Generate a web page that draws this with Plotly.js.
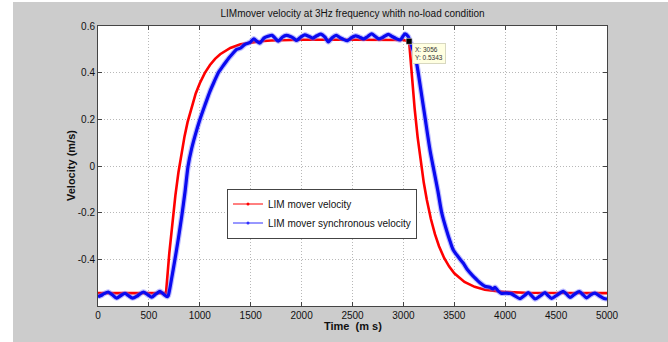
<!DOCTYPE html>
<html>
<head>
<meta charset="utf-8">
<script src="https://cdn.plot.ly/plotly-3.0.1.min.js"></script>
<style>html,body{margin:0;padding:0;background:#fff;}#chart{width:668px;height:342px;}</style>
</head>
<body>
<div id="chart"></div>
<script>
// LIM mover velocity (red)
const redTime = [0, 300, 668, 700, 730, 760, 790, 820, 850, 880, 920, 960, 1000, 1050, 1100, 1150, 1200, 1300, 1400, 1500, 1600, 1700, 1800, 2000, 2500, 3000, 3056,
  3080, 3110, 3140, 3170, 3200, 3230, 3270, 3310, 3350, 3400, 3450, 3500, 3600, 3700, 3800, 3900, 4000, 4200, 4600, 5000];
const redVel = [-0.545, -0.545, -0.545, -0.376, -0.242, -0.127, -0.028, 0.055, 0.127, 0.188, 0.256, 0.311, 0.355, 0.399, 0.433, 0.459, 0.479, 0.506, 0.522, 0.530, 0.535, 0.538, 0.540, 0.541, 0.541, 0.540, 0.534,
  0.397, 0.248, 0.123, 0.018, -0.071, -0.145, -0.227, -0.292, -0.344, -0.394, -0.431, -0.460, -0.497, -0.518, -0.530, -0.536, -0.540, -0.543, -0.545, -0.545];

// LIM mover synchronous velocity (blue)
const blueTime = [0, 30, 60, 100, 140, 183, 225, 265, 300, 340, 390, 445, 490, 527, 570, 609, 645, 680, 690,
  720, 756, 790, 822, 855, 885, 920, 960, 1002, 1050, 1100, 1140, 1182, 1230, 1280, 1320, 1362, 1400, 1440, 1493, 1530, 1560, 1590, 1630, 1670,
  1710, 1740, 1771, 1810, 1850, 1890, 1920, 1951, 1990, 2030, 2070, 2110, 2150, 2190, 2230, 2262, 2300, 2340, 2377, 2410, 2450, 2490, 2530, 2570,
  2610, 2650, 2688, 2725, 2760, 2800, 2852, 2890, 2930, 2967, 2990, 3016, 3045,
  3070, 3100, 3130, 3170, 3210, 3261, 3300, 3340, 3376, 3420, 3460, 3490, 3540, 3589, 3630, 3680, 3720, 3752, 3800, 3850, 3880, 3900, 3930, 3960,
  4015, 4063, 4100, 4145, 4190, 4227, 4260, 4293, 4340, 4391, 4420, 4456, 4510, 4570, 4600, 4637, 4680, 4728, 4765, 4800, 4840, 4882, 4930, 4970, 5000];
const blueVel = [-0.560, -0.555, -0.547, -0.540, -0.552, -0.566, -0.555, -0.546, -0.556, -0.566, -0.556, -0.540, -0.552, -0.562, -0.548, -0.537, -0.550, -0.560, -0.556,
  -0.49, -0.40, -0.31, -0.217, -0.11, 0.0, 0.075, 0.14, 0.20, 0.26, 0.32, 0.36, 0.40, 0.43, 0.46, 0.48, 0.50, 0.505, 0.52, 0.53, 0.545, 0.535, 0.527, 0.548, 0.556,
  0.560, 0.548, 0.535, 0.552, 0.560, 0.555, 0.548, 0.538, 0.552, 0.562, 0.556, 0.548, 0.558, 0.565, 0.552, 0.532, 0.550, 0.560, 0.550, 0.543, 0.537, 0.550, 0.558, 0.552,
  0.545, 0.555, 0.566, 0.555, 0.545, 0.552, 0.564, 0.555, 0.546, 0.540, 0.552, 0.566, 0.556,
  0.53, 0.49, 0.44, 0.33, 0.215, 0.069, -0.02, -0.11, -0.20, -0.27, -0.325, -0.36, -0.39, -0.417, -0.445, -0.47, -0.487, -0.50, -0.515, -0.52, -0.527, -0.520, -0.535, -0.545,
  -0.545, -0.548, -0.558, -0.568, -0.555, -0.543, -0.556, -0.570, -0.558, -0.543, -0.555, -0.567, -0.553, -0.537, -0.548, -0.563, -0.550, -0.538, -0.552, -0.565, -0.552, -0.545, -0.558, -0.568, -0.570];

// data tip
const tipX = [3056];
const tipY = [0.5343];

const xTicks = [0, 500, 1000, 1500, 2000, 2500, 3000, 3500, 4000, 4500, 5000];
const yTicks = [-0.4, -0.2, 0, 0.2, 0.4, 0.6];
const yTickText = ['-0.4', '-0.2', '0', '0.2', '0.4', '0.6'];

const FONT = 'Liberation Sans, Arial, Helvetica, sans-serif';

const traces = [
  {x: [null], y: [null], type: 'scatter', mode: 'lines+markers', name: 'LIM mover velocity', line: {color: '#ff0000', width: 1}, marker: {color: '#ff0000', size: 3}, legendrank: 1},
  {x: [null], y: [null], type: 'scatter', mode: 'lines+markers', name: 'LIM mover synchronous velocity', line: {color: '#3030ff', width: 1}, marker: {color: '#3030ff', size: 3}, legendrank: 2},
  {x: redTime, y: redVel, type: 'scatter', mode: 'lines', line: {color: '#ff0000', width: 2.6}, showlegend: false, hoverinfo: 'skip'},
  {x: blueTime, y: blueVel, type: 'scatter', mode: 'lines', line: {color: 'rgba(110,110,255,0.45)', width: 5.5, shape: 'spline', smoothing: 0.7}, showlegend: false, hoverinfo: 'skip'},
  {x: blueTime, y: blueVel, type: 'scatter', mode: 'lines', line: {color: '#0a0af0', width: 3.2, shape: 'spline', smoothing: 0.7}, showlegend: false, hoverinfo: 'skip'},
  {x: tipX, y: tipY, type: 'scatter', mode: 'markers', marker: {symbol: 'square', color: '#000', size: 6, line: {color: '#fff', width: 0.5}}, showlegend: false}
];

const L = 98, R = 61, T = 26, B = 36, PW = 668 - L - R, PH = 342 - T - B;
const axisCommon = {
  showline: true, linecolor: '#444', linewidth: 1, mirror: 'ticks', ticks: 'inside', ticklen: 4, tickcolor: '#444',
  showgrid: true, gridcolor: '#b8b8b8', griddash: '1px,2px', gridwidth: 1, zeroline: false,
  tickfont: {family: FONT, size: 10, color: '#111'}
};

const layout = {
  width: 668, height: 342,
  margin: {l: L, r: R, t: T, b: B, pad: 0},
  paper_bgcolor: '#cccccc', plot_bgcolor: '#ffffff',
  font: {family: FONT, size: 10, color: '#111'},
  title: {text: 'LIMmover velocity at 3Hz frequency whith no-load condition', font: {family: FONT, size: 10, color: '#111'}, x: 0.5, xref: 'paper', y: 1 - 13 / 342, yref: 'container', yanchor: 'middle', xanchor: 'center'},
  xaxis: Object.assign({}, axisCommon, {range: [0, 5000], tickvals: xTicks, ticktext: xTicks.map(String), title: {text: ''}}),
  yaxis: Object.assign({}, axisCommon, {range: [-0.6, 0.6], tickvals: yTicks, ticktext: yTickText, title: {text: ''}}),
  showlegend: true,
  legend: {x: (322 - L) / PW, y: (306 - 213.5) / PH, xanchor: 'center', yanchor: 'middle', bgcolor: '#ffffff', bordercolor: '#444', borderwidth: 1,
    font: {family: FONT, size: 10, color: '#111'}, itemwidth: 30, tracegroupgap: 0},
  shapes: [
    {type: 'rect', xref: 'paper', yref: 'paper', x0: -L / PW - 0.01, x1: (13 - L) / PW, y0: -B / PH - 0.05, y1: (306 + 10) / PH, fillcolor: '#ffffff', line: {width: 0}, layer: 'below'},
    {type: 'rect', xref: 'paper', yref: 'paper', x0: -L / PW - 0.01, x1: 1 + R / PW + 0.01, y0: (306 - 2) / PH, y1: (306 + 10) / PH, fillcolor: '#ffffff', line: {width: 0}, layer: 'below'}
  ],
  annotations: [
    {text: 'Time \u00a0(m s)', xref: 'paper', yref: 'paper', x: 0.5, y: (306 - 326) / PH, xanchor: 'center', yanchor: 'middle', showarrow: false, font: {family: FONT, size: 11, color: '#111', weight: 'bold'}},
    {text: 'Velocity (m/s)', xref: 'paper', yref: 'paper', x: (71 - L) / PW, y: 0.5, xanchor: 'center', yanchor: 'middle', textangle: -90, showarrow: false, font: {family: FONT, size: 11, color: '#111', weight: 'bold'}},
    {text: 'X: 3056<br>Y: 0.5343', xref: 'x', yref: 'y', x: tipX[0], y: tipY[0], xanchor: 'left', yanchor: 'top', xshift: 3, yshift: -2, showarrow: false, align: 'left',
      bgcolor: '#ffffe1', bordercolor: '#d8d8c0', borderwidth: 1, borderpad: 2, font: {family: FONT, size: 6.5, color: '#333'}}
  ]
};

Plotly.newPlot('chart', traces, layout, {staticPlot: true, displayModeBar: false});
</script>
</body>
</html>
